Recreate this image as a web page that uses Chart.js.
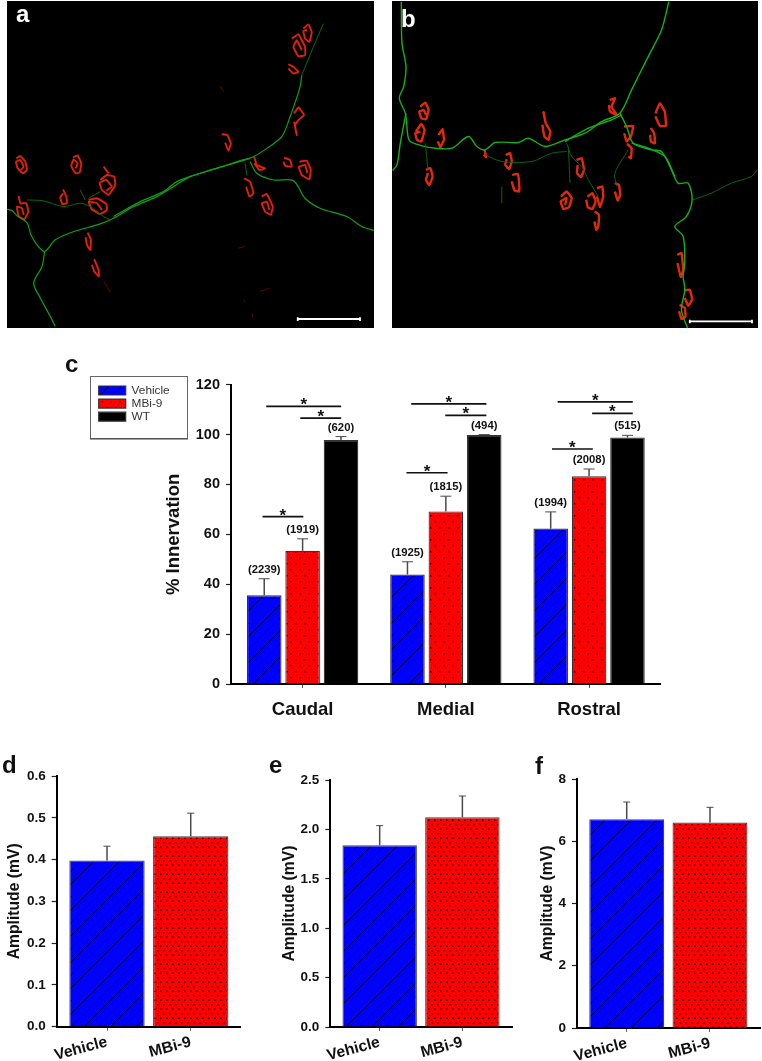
<!DOCTYPE html>
<html><head><meta charset="utf-8">
<script src="https://cdn.jsdelivr.net/npm/chart.js@4"></script>
<style>
html,body{margin:0;padding:0;background:#fff;width:762px;height:1061px;overflow:hidden}
canvas{position:absolute;display:block}
.wrap{position:absolute}
.tag{position:absolute;font:bold 24px/24px "Liberation Sans",Arial,sans-serif;color:#111}
</style></head><body>
<div class="wrap" style="left:7px;top:1px;width:367px;height:327px;background:#000"><canvas id="pa" width="367" height="327"></canvas></div>
<div class="wrap" style="left:392px;top:1px;width:366px;height:327px;background:#000"><canvas id="pb" width="366" height="327"></canvas></div>
<div class="wrap" style="left:60px;top:370px;width:620px;height:360px"><canvas id="cc" width="620" height="360"></canvas></div>
<div class="wrap" style="left:0;top:760px;width:250px;height:301px"><canvas id="cd" width="250" height="301"></canvas></div>
<div class="wrap" style="left:262px;top:760px;width:255px;height:301px"><canvas id="ce" width="255" height="301"></canvas></div>
<div class="wrap" style="left:522px;top:760px;width:240px;height:301px"><canvas id="cf" width="240" height="301"></canvas></div>
<div class="tag" style="left:16px;top:2px;color:#fff">a</div>
<div class="tag" style="left:401px;top:7px;color:#fff">b</div>
<div class="tag" style="left:65px;top:352px">c</div>
<div class="tag" style="left:2px;top:753px">d</div>
<div class="tag" style="left:269px;top:753px">e</div>
<div class="tag" style="left:535px;top:754px">f</div>
<script>
/* ---------- panel c data ---------- */
const regions = ['Caudal','Medial','Rostral'];
const seriesNames = ['Vehicle','MBi-9','WT'];
const vehicleInnervation = [35.6,43.9,62.3];
const mbi9Innervation = [53.4,69.2,83.3];
const wtInnervation = [97.8,99.8,98.8];
const vehicleErrTop = [42.2,49.0,69.0];
const mbi9ErrTop = [58.2,75.3,86.2];
const wtErrTop = [99.2,100.0,99.7];
const vehicleCounts = ['(2239)','(1925)','(1994)'];
const mbi9Counts = ['(1919)','(1815)','(2008)'];
const wtCounts = ['(620)','(494)','(515)'];
const innervationTicks = [0,20,40,60,80,100,120];
/* significance bars: from, to (category units), level (% innervation) */
const sigBars = [
 [-0.254,0.269,111.3],[-0.016,0.269,106.6],[-0.28,0.005,67.1],
 [0.758,1.283,112.3],[0.996,1.283,107.7],[0.725,1.012,84.7],
 [1.781,2.305,113.1],[2.021,2.305,108.5],[1.741,2.026,94.2]];
/* ---------- panels d,e,f data ---------- */
const groups = ['Vehicle','MBi-9'];
const ampD = [0.398,0.456], ampDErrTop = [0.432,0.511], ticksD = [0,0.1,0.2,0.3,0.4,0.5,0.6];
const ampE = [1.839,2.122], ampEErrTop = [2.038,2.338], ticksE = [0,0.5,1,1.5,2,2.5];
const ampF = [6.71,6.60],  ampFErrTop = [7.26,7.09],  ticksF = [0,2,4,6,8];
/* ---------- micrograph traces (image units) ---------- */
const nerveA = [
 [20,628,35,632,50,648,80,668,92,705,110,735,133,755,165,720,215,697,300,672,340,655,400,620,470,590,520,560,570,530,650,505,720,482,760,470,800,445,845,410,870,350,900,260,905,225],
 [340,650,420,605,490,575,530,545,600,520,700,490,750,475],
 [133,755,125,800,100,850,120,895,150,950,165,980],
 [750,485,770,520,820,540,880,542,915,595,960,625,1040,650,1085,680,1122,692]];
const dimNerveA = [
 [80,600,130,603,190,620,240,610,270,620,310,650,330,660],
 [240,570,255,600],[300,575,265,595],[905,225,940,140,970,70],[735,490,740,525]];
const nmjA = [
 [48,475,60,468,75,485,80,510,68,520,52,505,47,485,60,480,70,500,62,510],
 [218,472,232,466,243,490,238,518,226,520,213,498,220,478,232,490,226,505],
 [300,540,320,525,342,530,345,555,325,585,305,570,298,548,318,540,335,560,318,572],
 [310,500,325,520],
 [188,568,198,590,200,610,186,612,180,592,188,580],
 [265,600,290,595,318,612,320,630,300,642,275,628,265,605,290,610,305,630],
 [55,588,60,610,78,610,84,635,72,658,55,650,50,620,65,625,70,645],
 [262,698,272,720,270,750,260,735,256,712],
 [282,778,295,810,296,830,282,815,275,795],
 [910,85,925,72,935,95,928,125,915,115,910,92,922,88],
 [875,115,895,102,915,140,915,165,895,168,880,140,890,120,905,150],
 [865,192,880,200,895,215,880,220,865,205],
 [882,340,895,322,912,345,895,360,885,375,890,405,882,365],
 [665,402,682,405,692,430,685,452,675,428],
 [762,470,770,495,795,505,778,510,762,490],
 [852,473,870,480,875,500,855,497,850,485],
 [898,485,920,482,932,510,928,538,905,525,896,500,915,495,922,520],
 [732,535,750,545,760,580,748,590,738,560],
 [785,590,800,582,818,620,812,645,795,635,785,610,800,605,808,630]];
const dimNmjA = [[312,845,330,878],[660,258,670,275],[715,745,735,740],[780,875,810,865],[730,900,735,908],[757,940,757,952]];
const nerveB = [
 [48,5,50,130,62,200,55,260,42,295,60,340,68,410,75,425,110,438,150,445,200,445,250,410,275,440,300,450,330,428,400,428,430,415,480,440,540,420,600,400,650,365,705,340,740,270,790,170,830,90,852,5],
 [62,340,45,430,35,495,22,512],
 [705,340,725,380,745,430,800,450,830,455,860,510,880,550,910,550,922,600,905,650,870,680,895,710,900,790,895,830,900,870,890,930,908,985],
 [540,425,610,385,680,360,710,345],[740,430,790,445,840,470,870,530]];
const dimNerveB = [
 [925,600,980,580,1040,550,1100,530,1118,510],
 [545,430,560,470,590,500,610,540,640,590],
 [300,465,350,485,440,485,500,460,545,455],
 [120,430,128,510],[550,440,555,550],[730,450,690,520,695,560],[350,560,350,610]];
const nmjB = [
 [105,320,120,308,130,330,122,358,108,355,102,335,115,330,122,345],
 [92,395,108,372,118,390,108,425,95,420,90,400,105,395],
 [160,405,172,388,176,420,165,442,158,425],
 [122,510,135,505,142,530,132,556,122,540,128,520],
 [298,450,303,472,296,465],
 [475,335,482,370,496,395,490,420,478,410,472,375],
 [362,465,375,460,380,485,372,508,360,495,365,478],
 [382,525,398,522,402,550,402,575,388,572,380,545],
 [528,590,545,575,560,595,552,622,535,628,527,605,545,595,540,615],
 [575,480,590,475,597,510,588,532,576,520,578,495],
 [608,590,622,580,632,605,622,628,608,622,604,600],
 [636,565,652,560,655,590,645,622,636,590],
 [630,635,642,645,640,680,634,690,628,665],
 [690,550,702,555,706,585,698,602,690,575],
 [675,300,690,295,680,320,695,345,675,335,672,315],
 [718,380,745,378,738,410,725,425,718,400],
 [727,432,740,445,738,475,730,470],
 [812,340,825,310,840,335,843,378,825,378,812,350],
 [798,385,808,400,810,430,798,425,796,405],
 [878,765,890,760,895,810,888,832,878,790],
 [898,872,915,870,922,900,910,918,900,895],
 [885,915,900,925,902,950,890,958,883,935]];
const scaleBarA = [[893,958,1080,958],[893,953,893,964],[1080,953,1080,964]];
const scaleBarB = [[915,965,1102,965],[915,960,915,971],[1102,960,1102,971]];

/* ---------- shared helpers ---------- */
Chart.defaults.animation = false;
Chart.defaults.responsive = false;
Chart.defaults.font.family = '"Liberation Sans",Arial,sans-serif';
const BOLD = s => ({family:'"Liberation Sans",Arial,sans-serif',weight:'bold',size:s});

function tile(w,h,paint){const c=document.createElement('canvas');c.width=w;c.height=h;const x=c.getContext('2d');paint(x,w,h);return x.createPattern(c,'repeat');}
function hatch(p){return tile(p,p,(x,w)=>{x.fillStyle='#0000ff';x.fillRect(0,0,w,w);x.strokeStyle='#000050';x.lineWidth=1;
 x.beginPath();x.moveTo(-2,w+2);x.lineTo(w+2,-2);x.moveTo(-2,2);x.lineTo(2,-2);x.moveTo(w-2,w+2);x.lineTo(w+2,w-2);x.stroke();});}
function dots(w,h){return tile(w,h,(x)=>{x.fillStyle='#ff0000';x.fillRect(0,0,w,h);x.fillStyle='#300000';
 x.fillRect(1,1,1.5,1.5);x.fillRect(1+w/2,1+h/2,1.5,1.5);});}

function errPlugin(tops,cap){return {id:'errBars',afterDatasetsDraw(ch){
 const c=ch.ctx,y=ch.scales.y;c.save();c.strokeStyle='#4a4a4a';
 tops.forEach((arr,d)=>{const m=ch.getDatasetMeta(d);arr.forEach((t,i)=>{const b=m.data[i];const ty=y.getPixelForValue(t);
  c.lineWidth=1.5;c.beginPath();c.moveTo(b.x,b.y);c.lineTo(b.x,ty);c.stroke();
  c.lineWidth=1;c.beginPath();c.moveTo(b.x-cap,ty);c.lineTo(b.x+cap,ty);c.stroke();});});
 c.restore();}};}

function axisY(ticks,label,w,titlePad,fmt,fs){return {type:'linear',position:'left',min:ticks[0],max:ticks[ticks.length-1],
 afterFit:s=>{s.width=w;},afterBuildTicks:s=>{s.ticks=ticks.map(v=>({value:v}));},
 border:{display:true,color:'#000',width:2},
 grid:{display:true,drawOnChartArea:false,drawTicks:true,tickLength:5,tickColor:'#222',tickWidth:1.2},
 ticks:{color:'#111',font:BOLD(fs),padding:6,callback:fmt},
 title:{display:true,text:label,color:'#111',font:BOLD(fs>14?18.5:15.7),padding:{top:titlePad,bottom:0}}};}

/* ---------- panel c ---------- */
const hatchC=hatch(13), dotsC=dots(9,12);
const ccBars=[vehicleInnervation,mbi9Innervation,wtInnervation];
const ccFill=[hatchC,dotsC,'#000'];
new Chart(document.getElementById('cc'),{type:'bar',
 data:{labels:regions,datasets:seriesNames.map((n,i)=>({label:n,data:ccBars[i],backgroundColor:ccFill[i],borderColor:'#333',borderWidth:1.2,categoryPercentage:0.804,barPercentage:0.9}))},
 options:{layout:{padding:{left:0,top:13.5,right:19.3,bottom:0}},
  plugins:{tooltip:{enabled:false},
   legend:{display:true,position:'chartArea',align:'start',labels:{boxWidth:27,boxHeight:9,padding:1.3,color:'#333',font:{size:11.8,family:'"Liberation Sans",Arial,sans-serif'}}}},
  scales:{
   x:{type:'category',offset:true,afterFit:s=>{s.height=46;},
      border:{display:true,color:'#000',width:2},
      grid:{display:true,offset:false,drawOnChartArea:false,drawTicks:true,tickLength:4,tickColor:'#555',tickWidth:1},
      ticks:{color:'#111',font:BOLD(18.5),padding:11,maxRotation:0,autoSkip:false}},
   y:axisY(innervationTicks,'% Innervation',171,103,v=>String(v),14.5)}},
 plugins:[errPlugin([vehicleErrTop,mbi9ErrTop,wtErrTop],5.5),{id:'place',afterLayout(ch){
   const l=ch.legend;l.left=37.4;l.top=13.3;l.right=l.left+90;l.bottom=l.top+60;l.width=90;l.height=60;},
  afterDraw(ch){const c=ch.ctx;c.save();c.strokeStyle='#666';c.lineWidth=1;c.strokeRect(30.5,6.5,97,62);
   c.strokeStyle='#444';c.beginPath();c.moveTo(30,69);c.lineTo(128,69);c.stroke();c.restore();}},
  {id:'annot',afterDatasetsDraw(ch){const c=ch.ctx,x=ch.scales.x,y=ch.scales.y;c.save();
   c.fillStyle='#111';c.textAlign='center';c.textBaseline='middle';c.font='bold 11.3px "Liberation Sans",Arial,sans-serif';
   [[vehicleCounts,vehicleErrTop],[mbi9Counts,mbi9ErrTop],[wtCounts,wtErrTop]].forEach((p,d)=>{const m=ch.getDatasetMeta(d);
    p[0].forEach((t,i)=>c.fillText(t,m.data[i].x,y.getPixelForValue(p[1][i])-9));});
   c.strokeStyle='#111';c.lineWidth=1.6;c.font='bold 17px "Liberation Sans",Arial,sans-serif';c.textBaseline='alphabetic';
   sigBars.forEach(b=>{const a=x.getPixelForValue(b[0]),e=x.getPixelForValue(b[1]),v=y.getPixelForValue(b[2]);
    c.beginPath();c.moveTo(a,v);c.lineTo(e,v);c.stroke();c.fillText('*',(a+e)/2,v+4);});
   c.restore();}}]});

/* ---------- panels d,e,f ---------- */
function ampChart(id,vals,errs,ticks,fmt,yw,top,xh,right,tp,xmin,xmax){
 new Chart(document.getElementById(id),{type:'bar',
  data:{labels:groups,datasets:[{label:'Amplitude',data:vals.map((v,i)=>({x:i+1,y:v})),
    backgroundColor:[hatch(13),dots(6,9)],borderColor:'#444',borderWidth:1.2,categoryPercentage:1,barPercentage:0.9}]},
  options:{layout:{padding:{left:0,top:top,right:right,bottom:0}},
   plugins:{legend:{display:false},tooltip:{enabled:false}},
   scales:{x:{type:'linear',offset:false,min:xmin,max:xmax,afterFit:s=>{s.height=xh;},afterBuildTicks:s=>{s.ticks=groups.map((g,i)=>({value:i+1}));},
      border:{display:true,color:'#000',width:2},
      grid:{display:true,offset:false,drawOnChartArea:false,drawTicks:true,tickLength:4,tickColor:'#666',tickWidth:1},
      ticks:{color:'#111',font:BOLD(15.7),padding:2,minRotation:15,maxRotation:15,autoSkip:false,callback:v=>groups[v-1]}},
     y:axisY(ticks,'Amplitude (mV)',yw,tp,fmt,13.5)}},
  plugins:[errPlugin([errs],3.5)]});
}
const f1=v=>v.toFixed(1), f0=v=>String(v);
ampChart('cd',ampD,ampDErrTop,ticksD,f1,56.7,16,34.3,9.3,5,0.399,2.597);
ampChart('ce',ampE,ampEErrTop,ticksE,f1,68.3,20,34,5,18,0.403,2.6);
ampChart('cf',ampF,ampFErrTop,ticksF,f0,55,19,33,1.7,16,0.403,2.604);

/* ---------- micrographs ---------- */
const pts=f=>{const o=[];for(let i=0;i<f.length;i+=2)o.push({x:f[i],y:f[i+1]});return o;};
function trace(arr,color,w,t,dash){return arr.map(f=>({data:pts(f),showLine:true,borderColor:color,borderWidth:w,pointRadius:0,tension:t,borderDash:dash||[],fill:false}));}
function micro(id,xr,yr,ds){new Chart(document.getElementById(id),{type:'scatter',data:{datasets:ds},
 options:{layout:{padding:0},plugins:{legend:{display:false},tooltip:{enabled:false}},
  scales:{x:{type:'linear',display:false,min:xr[0],max:xr[1]},y:{type:'linear',display:false,reverse:true,min:yr[0],max:yr[1]}}}});}
micro('pa',[20,1122],[2,985],[
 ...trace(dimNmjA,'#4a0805',1.2,0.2),
 ...trace(dimNerveA,'#0a6a0d',1,0.3),...trace(nerveA,'#10a014',1.2,0.3),
 ...trace(nmjA,'#e4200c',1.9,0.1),...trace(scaleBarA,'#fff',1.8,0)]);
micro('pb',[20,1120],[3,985],[
 ...trace(dimNerveB,'#0a650e',1,0.3),...trace(nerveB,'#16b01a',1.4,0.3),
 ...trace(nmjB,'#e4280c',2.4,0.1),...trace(nmjB,'#e0c820',1.2,0.1,[2,3]),...trace(scaleBarB,'#fff',1.8,0)]);
</script>
</body></html>
